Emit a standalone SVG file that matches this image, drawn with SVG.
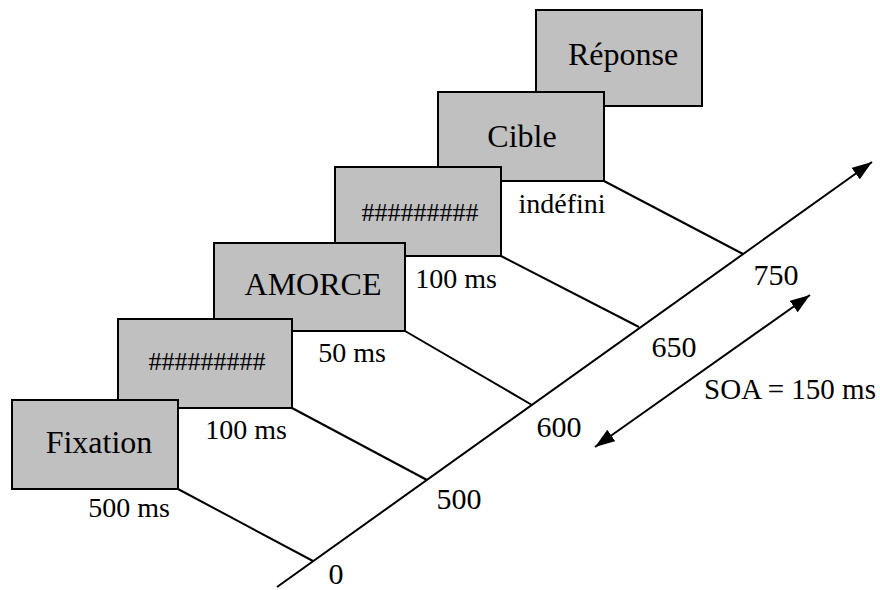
<svg xmlns="http://www.w3.org/2000/svg" width="880" height="590" viewBox="0 0 880 590">
<defs>
<style>
.box{fill:#c0c0c0;stroke:#000;stroke-width:2}
.ln{stroke:#000;stroke-width:2;fill:none}
text{font-family:"Liberation Serif","Times New Roman",serif;fill:#000;text-anchor:middle}
.big{font-size:32px}
.mid{font-size:28px}
.num{font-size:30px}
.hash{font-size:26px}
</style>
<marker id="arr" viewBox="0 0 20 14" refX="20" refY="7" markerWidth="20" markerHeight="14" markerUnits="userSpaceOnUse" orient="auto-start-reverse">
<path d="M0,0 L20,7 L0,14 z" fill="#000"/>
</marker>
</defs>
<rect width="880" height="590" fill="#fff"/>
<g id="connectors">
<line class="ln" x1="178" y1="489" x2="313" y2="561"/>
<line class="ln" x1="292" y1="408" x2="427" y2="480"/>
<line class="ln" x1="405" y1="331" x2="532" y2="405"/>
<line class="ln" x1="501" y1="256" x2="639" y2="327"/>
<line class="ln" x1="604" y1="181" x2="743" y2="254"/>
<line class="ln" x1="277" y1="587" x2="872" y2="162" marker-end="url(#arr)"/>
<line class="ln" x1="595" y1="447" x2="810" y2="295" marker-start="url(#arr)" marker-end="url(#arr)"/>
</g>
<g id="reponse"><rect class="box" x="536" y="10" width="166" height="96"/><text class="big" x="623" y="65">Réponse</text></g>
<g id="cible"><rect class="box" x="438" y="92" width="166" height="89"/><text class="big" x="522" y="147">Cible</text></g>
<g id="masque2"><rect class="box" x="335" y="167" width="166" height="89"/><text class="hash" x="420" y="221">#########</text></g>
<g id="amorce"><rect class="box" x="214" y="243" width="191" height="88"/><text class="big" x="313" y="295">AMORCE</text></g>
<g id="masque1"><rect class="box" x="118" y="319" width="174" height="89"/><text class="hash" x="207" y="370">#########</text></g>
<g id="fixation"><rect class="box" x="12" y="400" width="166" height="89"/><text class="big" x="99" y="453">Fixation</text></g>
<g id="durations">
<text class="mid" x="129" y="517">500 ms</text>
<text class="mid" x="246" y="439">100 ms</text>
<text class="mid" x="352" y="362">50 ms</text>
<text class="mid" x="456" y="288">100 ms</text>
<text class="mid" x="562" y="213">indéfini</text>
</g>
<g id="ticks">
<text class="num" x="336" y="584">0</text>
<text class="num" x="459" y="509">500</text>
<text class="num" x="559" y="437">600</text>
<text class="num" x="674" y="357">650</text>
<text class="num" x="776" y="285">750</text>
<text class="num" x="790" y="399" style="font-size:29px">SOA = 150 ms</text>
</g>
</svg>
